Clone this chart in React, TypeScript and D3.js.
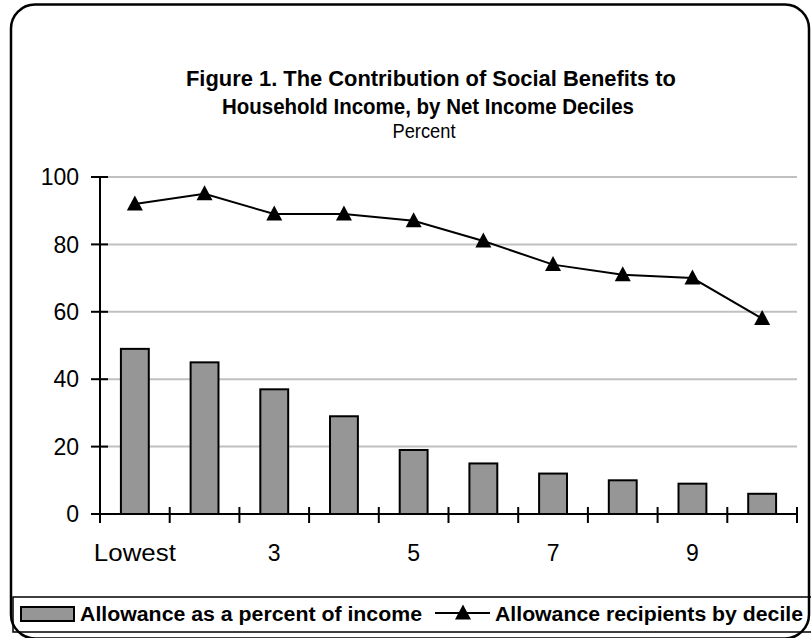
import { useEffect, useRef } from "react";
import * as d3 from "d3";

const categories = ["Lowest", "2", "3", "4", "5", "6", "7", "8", "9", "10"];
const tickLabels = ["Lowest", "", "3", "", "5", "", "7", "", "9", ""];
const allowanceShare = [49, 45, 37, 29, 19, 15, 12, 10, 9, 6];
const recipients = [92, 95, 89, 89, 87, 81, 74, 71, 70, 58];
const yTicks = [0, 20, 40, 60, 80, 100];

const FONT = "'Liberation Sans', Arial, sans-serif";
const TRI = "M0,-8.5L8,6.5L-8,6.5Z";

export default function App() {
  const ref = useRef<SVGSVGElement | null>(null);

  useEffect(() => {
    if (!ref.current) return;
    ref.current.innerHTML = "";
    const svg = d3.select(ref.current);

    const left = 100,
      right = 797,
      top = 177,
      bottom = 514;

    // outer frame
    svg
      .append("rect")
      .attr("x", 11)
      .attr("y", 4.5)
      .attr("width", 798)
      .attr("height", 634)
      .attr("rx", 24)
      .attr("fill", "white")
      .attr("stroke", "black")
      .attr("stroke-width", 2.5);

    // title
    const title = svg
      .append("text")
      .attr("text-anchor", "middle")
      .attr("font-family", FONT)
      .attr("fill", "black");
    title
      .append("tspan")
      .attr("x", 431)
      .attr("y", 86)
      .attr("font-weight", "bold")
      .attr("font-size", 22.5)
      .attr("textLength", 490)
      .attr("lengthAdjust", "spacingAndGlyphs")
      .text("Figure 1. The Contribution of Social Benefits to");
    title
      .append("tspan")
      .attr("x", 428)
      .attr("y", 114)
      .attr("font-weight", "bold")
      .attr("font-size", 22.5)
      .attr("textLength", 412)
      .attr("lengthAdjust", "spacingAndGlyphs")
      .text("Household Income, by Net Income Deciles");
    title
      .append("tspan")
      .attr("x", 424)
      .attr("y", 138)
      .attr("font-size", 21)
      .attr("textLength", 63)
      .attr("lengthAdjust", "spacingAndGlyphs")
      .text("Percent");

    const x = d3
      .scaleBand<string>()
      .domain(categories)
      .range([left, right])
      .paddingInner(0.6)
      .paddingOuter(0.3);
    const xEdge = d3.scaleLinear().domain([0, 10]).range([left, right]);
    const y = d3.scaleLinear().domain([0, 100]).range([bottom, top]);

    // gridlines
    svg
      .append("g")
      .selectAll("line")
      .data(yTicks.filter((d) => d > 0))
      .join("line")
      .attr("x1", left)
      .attr("x2", right)
      .attr("y1", (d) => y(d))
      .attr("y2", (d) => y(d))
      .attr("stroke", "#c0c0c0")
      .attr("stroke-width", 2);

    // bars
    svg
      .append("g")
      .selectAll("rect")
      .data(allowanceShare)
      .join("rect")
      .attr("x", (_, i) => x(categories[i])!)
      .attr("y", (d) => y(d))
      .attr("width", x.bandwidth())
      .attr("height", (d) => y(0) - y(d))
      .attr("fill", "#969696")
      .attr("stroke", "black")
      .attr("stroke-width", 2);

    // y axis
    const yAxis = svg.append("g").attr("font-family", FONT);
    yAxis
      .append("line")
      .attr("x1", left)
      .attr("x2", left)
      .attr("y1", y(100))
      .attr("y2", y(0))
      .attr("stroke", "black")
      .attr("stroke-width", 2);
    yAxis
      .selectAll("line.tick")
      .data(yTicks)
      .join("line")
      .attr("class", "tick")
      .attr("x1", left - 9)
      .attr("x2", left + 8)
      .attr("y1", (d) => y(d))
      .attr("y2", (d) => y(d))
      .attr("stroke", "black")
      .attr("stroke-width", 2);
    yAxis
      .selectAll("text")
      .data(yTicks)
      .join("text")
      .attr("x", 79)
      .attr("y", (d) => y(d))
      .attr("dy", "0.36em")
      .attr("text-anchor", "end")
      .attr("font-size", 23)
      .text((d) => d);

    // x axis
    const xAxis = svg.append("g").attr("font-family", FONT);
    xAxis
      .append("line")
      .attr("x1", left)
      .attr("x2", right)
      .attr("y1", bottom)
      .attr("y2", bottom)
      .attr("stroke", "black")
      .attr("stroke-width", 2);
    xAxis
      .selectAll("line.tick")
      .data(d3.range(11))
      .join("line")
      .attr("class", "tick")
      .attr("x1", (d) => xEdge(d))
      .attr("x2", (d) => xEdge(d))
      .attr("y1", bottom - 7)
      .attr("y2", bottom + 9)
      .attr("stroke", "black")
      .attr("stroke-width", 2);
    xAxis
      .selectAll("text")
      .data(tickLabels)
      .join("text")
      .attr("x", (_, i) => x(categories[i])! + x.bandwidth() / 2)
      .attr("y", 561)
      .attr("text-anchor", "middle")
      .attr("font-size", 23)
      .each(function (d) {
        if (d.length > 2)
          d3.select(this)
            .attr("textLength", 82)
            .attr("lengthAdjust", "spacingAndGlyphs");
      })
      .text((d) => d);

    // line series
    const cx = (i: number) => x(categories[i])! + x.bandwidth() / 2;
    svg
      .append("path")
      .datum(recipients)
      .attr("fill", "none")
      .attr("stroke", "black")
      .attr("stroke-width", 2)
      .attr(
        "d",
        d3
          .line<number>()
          .x((_, i) => cx(i))
          .y((d) => y(d))
      );
    svg
      .append("g")
      .selectAll("path")
      .data(recipients)
      .join("path")
      .attr("d", TRI)
      .attr("transform", (d, i) => `translate(${cx(i)},${y(d)})`)
      .attr("fill", "black");

    // legend
    const lg = svg.append("g").attr("font-family", FONT);
    lg.append("rect")
      .attr("x", 13)
      .attr("y", 597)
      .attr("width", 810)
      .attr("height", 35)
      .attr("fill", "none")
      .attr("stroke", "black")
      .attr("stroke-width", 1.5);
    lg.append("rect")
      .attr("x", 21)
      .attr("y", 607)
      .attr("width", 53)
      .attr("height", 14)
      .attr("fill", "#969696")
      .attr("stroke", "black")
      .attr("stroke-width", 2);
    lg.append("text")
      .attr("x", 80)
      .attr("y", 621)
      .attr("font-size", 19.5)
      .attr("font-weight", "bold")
      .attr("textLength", 342)
      .attr("lengthAdjust", "spacingAndGlyphs")
      .text("Allowance as a percent of income");
    lg.append("line")
      .attr("x1", 435)
      .attr("x2", 490)
      .attr("y1", 613)
      .attr("y2", 613)
      .attr("stroke", "black")
      .attr("stroke-width", 2);
    lg.append("path")
      .attr("d", TRI)
      .attr("transform", "translate(463,613)")
      .attr("fill", "black");
    lg.append("text")
      .attr("x", 495)
      .attr("y", 621)
      .attr("font-size", 19.5)
      .attr("font-weight", "bold")
      .attr("textLength", 308)
      .attr("lengthAdjust", "spacingAndGlyphs")
      .text("Allowance recipients by decile");
  }, []);

  return (
    <svg
      ref={ref}
      width={811}
      height={638}
      style={{ position: "absolute", left: 0, top: 0, background: "white" }}
    />
  );
}
